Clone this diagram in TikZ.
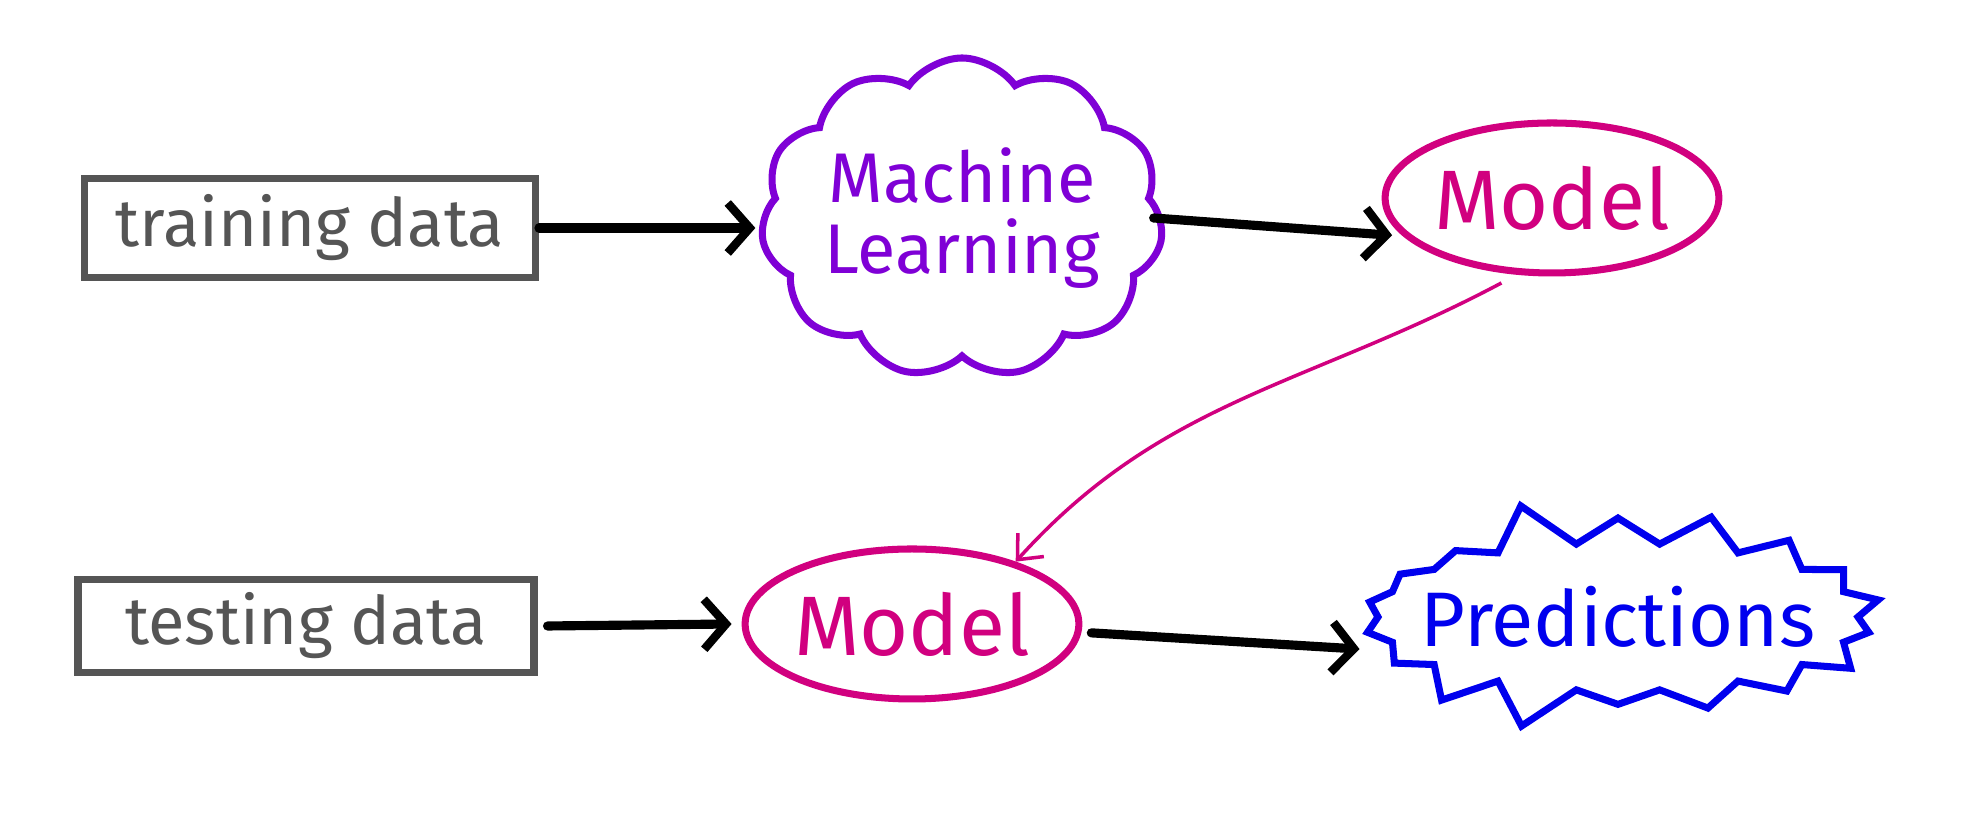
\documentclass[tikz,border=0pt]{standalone}
\usepackage{fontspec}
\setmainfont{Fira Sans}
\usetikzlibrary{arrows.meta, shapes.geometric, shapes.symbols}

\definecolor{inkgray}{HTML}{555555}
\definecolor{mlpurple}{HTML}{7F00D6}
\definecolor{modelpink}{HTML}{D1007F}
\definecolor{predblue}{HTML}{0000EE}

\tikzset{
  databox/.style={draw=inkgray, text=inkgray, line width=2pt, rectangle,
    font=\fontsize{19}{19}\selectfont},
  mlcloud/.style={draw=mlpurple, text=mlpurple, line width=2pt, cloud,
    cloud puffs=11, cloud puff arc=110, cloud ignores aspect, inner sep=0pt,
    minimum width=3.4cm, minimum height=3.2cm, align=center,
    font=\fontsize{20}{20}\selectfont},
  modelblob/.style={draw=modelpink, text=modelpink, line width=2pt, ellipse,
    minimum width=3.15cm, minimum height=1.5cm, inner sep=0pt,
    font=\fontsize{24}{24}\selectfont},
  predburst/.style={draw=predblue, line width=2pt, starburst,
    starburst points=18, starburst point height=0.45cm, random starburst=25,
    minimum width=5.7cm, minimum height=2.38cm, inner sep=0pt},
  predtext/.style={text=predblue, inner sep=0pt,
    font=\fontsize{22}{22}\selectfont},
  flow/.style={line width=2.6pt, line cap=round,
    -{Straight Barb[length=2.2mm, width=5mm, line width=2.4pt]}},
}

\begin{document}
\begin{tikzpicture}
\pgfmathsetseed{11}
\useasboundingbox[fill=white] (0,0) rectangle (19.62,8.15);

% top row
\node[databox, minimum width=4.51cm, minimum height=0.99cm] (train) at (3.10,5.87) {training data};
\node[mlcloud] (ml) at (9.62,5.97) {Machine\\Learning};
\node[modelblob] (model) at (15.52,6.17) {Model};

% bottom row
\node[databox, minimum width=4.56cm, minimum height=0.93cm] (test) at (3.06,1.89) {testing data};
\node[modelblob] (modeltest) at (9.12,1.91) {Model};
\node[predburst, label={[predtext]center:Predictions}] (pred) at (16.18,1.98) {};

\draw[flow] (train.east) -- ([xshift=-0.5mm]train.east -| ml.west);
\draw[flow] ([xshift=-1mm]ml.east) -- ([xshift=-1mm]model.194);
\draw[flow] ([xshift=1mm]test.east) -- ([xshift=-1mm]modeltest.west);
\draw[flow] ([xshift=1mm]modeltest.-3) -- ([xshift=-3mm]pred.188);

\draw[modelpink, line width=1pt, -{Straight Barb[length=2mm, width=3.5mm]}]
  ([yshift=-1mm]model.236) to[out=208, in=48] (modeltest.31);
\end{tikzpicture}
\end{document}
